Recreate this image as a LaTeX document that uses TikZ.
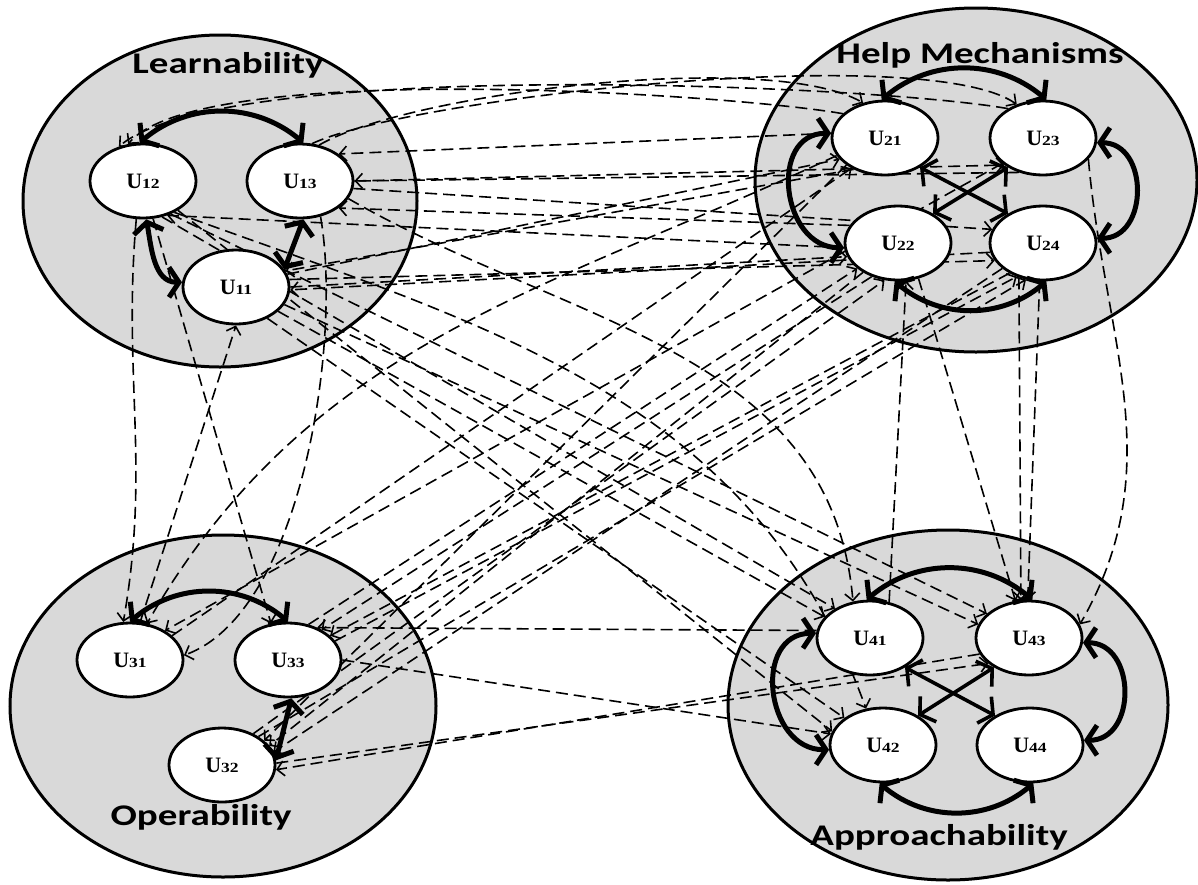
\documentclass[tikz,border=0pt]{standalone}
\usepackage{fontspec}
\usepackage{graphicx}
\usetikzlibrary{shapes.geometric}
\usetikzlibrary{arrows.meta}
\newfontfamily\titlefont{Carlito}
\newfontfamily\unitfont{Liberation Serif}
\newcommand{\ulab}[1]{{\unitfont\bfseries\fontsize{22}{22}\selectfont U\scalebox{1.25}[1]{\fontsize{14}{14}\selectfont #1}}}
\newcommand{\grouptitle}[1]{\scalebox{1.3}[1]{\titlefont\bfseries\fontsize{30}{30}\selectfont #1}}
\pgfdeclarelayer{back}
\pgfdeclarelayer{mid}
\pgfsetlayers{back,mid,main}

\begin{document}
\begin{tikzpicture}[x=1pt,y=-1pt,
  cluster/.style={ellipse,draw,line width=3pt,fill=gray!30,inner sep=0pt},
  unit/.style={ellipse,draw,line width=2.8pt,fill=white,minimum width=106pt,minimum height=74pt,inner sep=0pt},
  title/.style={anchor=base,inner sep=0pt},
  dep/.style={line width=1.6pt,dash pattern=on 12pt off 6pt,-{Straight Barb[length=7pt,width=15pt]}},
  link/.style={line width=5pt,{Straight Barb[length=10pt,width=30pt]}-{Straight Barb[length=10pt,width=30pt]}},
  cross/.style={link,line width=3.6pt}]
\useasboundingbox (0,0) rectangle (1198,884);
% groups
\begin{pgfonlayer}{back}
\node[cluster,minimum width=394pt,minimum height=332pt] (learn) at (220,201) {};
\node[cluster,minimum width=442pt,minimum height=344pt] (help) at (976,180) {};
\node[cluster,minimum width=426pt,minimum height=342pt] (oper) at (223,706) {};
\node[cluster,minimum width=440pt,minimum height=350pt] (appr) at (948,705) {};
\end{pgfonlayer}
\node[title] (learnT) at (228,73) {\grouptitle{Learnability}};
\node[title] (helpT) at (980,63) {\grouptitle{Help Mechanisms}};
\node[title] (operT) at (201,825) {\grouptitle{Operability}};
\node[title] (apprT) at (939,845) {\grouptitle{Approachability}};
% units
\node[unit] (u12) at (143,181) {\ulab{12}};
\node[unit] (u13) at (300,181) {\ulab{13}};
\node[unit] (u11) at (236,287) {\ulab{11}};
\node[unit] (u21) at (885,138) {\ulab{21}};
\node[unit] (u23) at (1043,138) {\ulab{23}};
\node[unit] (u22) at (898,243) {\ulab{22}};
\node[unit] (u24) at (1043,243) {\ulab{24}};
\node[unit] (u31) at (130,660) {\ulab{31}};
\node[unit] (u33) at (288,660) {\ulab{33}};
\node[unit] (u32) at (222,765) {\ulab{32}};
\node[unit] (u41) at (870,638) {\ulab{41}};
\node[unit] (u43) at (1029,638) {\ulab{43}};
\node[unit] (u42) at (883,745) {\ulab{42}};
\node[unit] (u44) at (1030,745) {\ulab{44}};
% inner relations
\draw[link] (u12.95) to[out=40,in=140] (u13.85);
\draw[link] (u11.175) to[out=180,in=-80] (u12.-85);
\draw[link] (u11.20) -- (u13.-85);
\draw[link] (u21.95) to[out=40,in=140] (u23.85);
\draw[link] (u21.175) to[out=180,in=180,looseness=1.4] (u22.185);
\draw[link] (u23.-5) to[out=0,in=0,looseness=1.4] (u24.5);
\draw[link] (u22.-95) to[out=-40,in=-140] (u24.-85);
\draw[cross] (u21.-40) -- (u24.140);
\draw[cross] (u23.-140) -- (u22.40);
\draw[link] (u31.90) to[out=40,in=140] (u33.90);
\draw[link] (u32.5) -- (u33.-85);
\draw[link] (u41.95) to[out=40,in=140] (u43.85);
\draw[link] (u41.175) to[out=180,in=180,looseness=1.4] (u42.185);
\draw[link] (u43.-5) to[out=0,in=0,looseness=1.4] (u44.5);
\draw[link] (u42.-95) to[out=-40,in=-140] (u44.-85);
\draw[cross] (u41.-40) -- (u44.140);
\draw[cross] (u43.-140) -- (u42.40);
% relations between groups
\begin{pgfonlayer}{mid}
\draw[dep] (u23.140) to[out=170,in=40,looseness=.4] (u12.125);
\draw[dep] (u21.150) to[out=170,in=50,looseness=.4] (u12.112);
\draw[dep] (u13.62) to[out=30,in=150,looseness=.5] (u21.122);
\draw[dep] (u13.72) to[out=25,in=145,looseness=.4] (u23.128);
\draw[dep] (u21.175) -- (u13.35);
\draw[dep] (u23.235) -- (u13.east);
\draw[dep] (u13.east) -- (u23.215);
\draw[dep] (u13.-8) -- (u24.165);
\draw[dep] (u22.160) -- (u13.-35);
\draw[dep] (u22.185) -- (u12.-55);
\draw[dep] (u11.east) -- (u22.195);
\draw[dep] (u11.8) -- (u24.200);
\draw[dep] (u21.225) -- (u11.18);
\draw[dep] (u24.190) -- (u11.-3);
\draw[dep] (u11.14) -- (u21.205);
\draw[dep] (u21.215) -- (u32.30);
\draw[dep] (u22.220) -- (u32.22);
\draw[dep] (u24.212) -- (u32.14);
\draw[dep] (u22.232) -- (u33.42);
\draw[dep] (u24.222) -- (u33.30);
\draw[dep] (u23.212) -- (u31.40);
\draw[dep] (u31.30) -- (u21.222);
\draw[dep] (u33.60) -- (u22.212);
\draw[dep] (u32.45) -- (u22.250);
\draw[dep] (u33.22) -- (u24.232);
\draw[dep] (u32.38) -- (u24.245);
\draw[dep] (u21.200) to[out=205,in=60] (u31.65);
\draw[dep] (u12.-75) -- (u33.115);
\draw[dep] (u12.-100) to[out=-95,in=80] (u31.100);
\draw[dep] (u31.75) -- (u11.-90);
\draw[dep] (u13.-60) to[out=-80,in=20,looseness=.7] (u31.5);
\draw[dep] (u12.-62) -- (u41.140);
\draw[dep] (u12.-50) -- (u43.150);
\draw[dep] (u11.-30) -- (u41.155);
\draw[dep] (u11.-45) -- (u42.145);
\draw[dep] (u11.-20) -- (u43.165);
\draw[dep] (u12.-40) -- (u42.165);
\draw[dep] (u13.-20) to[out=-30,in=95] (u41.115);
\draw[dep] (u12.-45) to[out=-20,in=110] (u42.115);
\draw[dep] (u22.-60) -- (u43.110);
\draw[dep] (u24.-95) -- (u43.92);
\draw[dep] (u24.-125) -- (u43.102);
\draw[dep] (u23.-25) to[out=-85,in=60] (u43.15);
\draw[dep] (u41.62) -- (u22.-78);
\draw[dep] (u32.2) -- (u43.212);
\draw[dep] (u43.198) -- (u32.-5);
\draw[dep] (u33.east) -- (u42.168);
\draw[dep] (u41.172) -- (u33.48);
\end{pgfonlayer}
\end{tikzpicture}
\end{document}
